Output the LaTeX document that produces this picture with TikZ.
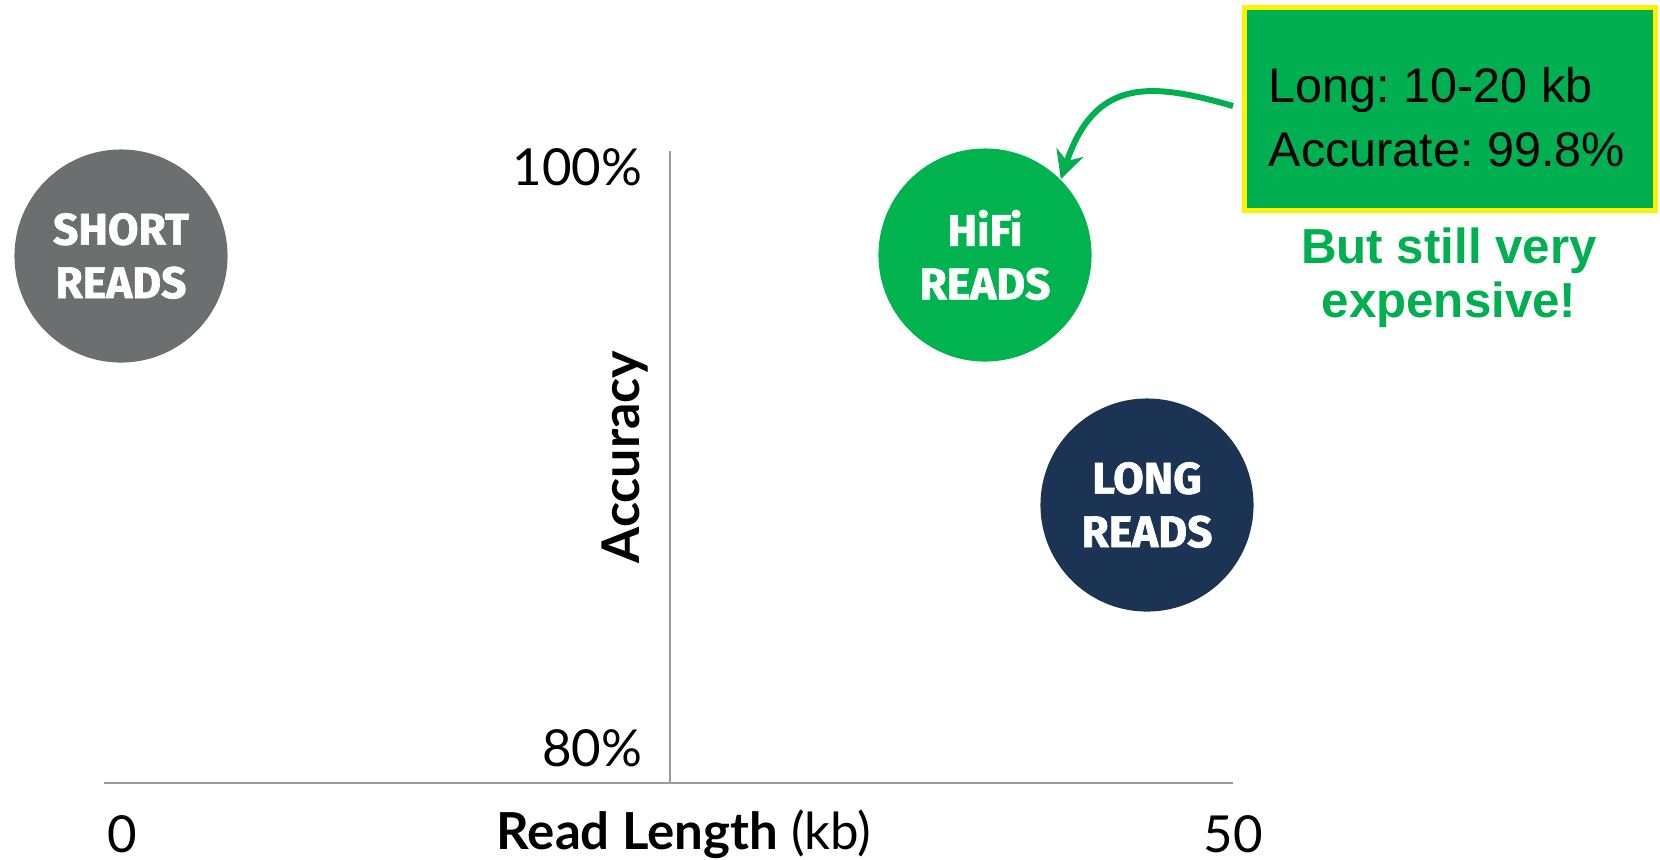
\documentclass[tikz,border=0pt]{standalone}
\usepackage{fontspec}
\setmainfont{Lato}
\newfontfamily\boxfont{Liberation Sans}
\newfontfamily\circfont[BoldFeatures={FakeBold=1.5}]{Fira Sans}
\usepackage{tikz}
\usetikzlibrary{arrows.meta, positioning}

\definecolor{readgray}{HTML}{6D6E70}
\definecolor{hifigreen}{HTML}{00B34F}
\definecolor{longnavy}{HTML}{1C3454}
\definecolor{calloutgreen}{HTML}{00B050}
\definecolor{axisgray}{HTML}{9A9A9A}

\begin{document}
\frenchspacing
\begin{tikzpicture}[x=0.01cm, y=-0.01cm,
    readcircle/.style={circle, minimum size=2.13cm, inner sep=0pt, text=white,
        font=\circfont\bfseries\fontsize{12.6}{15.2}\selectfont, align=center},
    axislabel/.style={font=\fontsize{14.5}{17}\selectfont, inner sep=0pt},
    axisline/.style={draw=axisgray, line width=0.5pt}]
  \useasboundingbox (0,0) rectangle (1660,859);

  % Axes
  \coordinate (origin) at (670,783);
  \coordinate (xleft)  at (104,783);
  \coordinate (xright) at (1233,783);
  \coordinate (ytop)   at (670,151);
  \draw[axisline] (xleft) -- (xright);
  \draw[axisline] (origin) -- (ytop);

  % Axis labels
  \node[axislabel, anchor=east] (yhigh) at (643,167) {100\%};
  \node[axislabel, anchor=east] (ylow)  at (643,748) {80\%};
  \node[axislabel] (xzero) at (122,834) {0};
  \node[axislabel] (xfifty) at (1233,834) {50};
  \node[axislabel] (xtitle) at (684,834) {\textbf{Read Length} (kb)};
  \node[axislabel, font=\bfseries\fontsize{14.8}{17}\selectfont, rotate=90] (ytitle) at (625,457) {Accuracy};

  % Read types
  \node[readcircle, fill=readgray]  (short) at (121,256)  {SHORT\\READS};
  \node[readcircle, fill=hifigreen] (hifi)  at (985,255)  {HiFi\\READS};
  \node[readcircle, fill=longnavy]  (long)  at (1147,505) {LONG\\READS};

  % Callout
  \node[draw=yellow, line width=1.4pt, fill=calloutgreen, minimum width=4.11cm,
        minimum height=2.02cm] (callout) at (1450,109) {};
  \node[anchor=west, inner sep=0pt, align=left,
        font=\boxfont\fontsize{13.8}{18}\selectfont] (calltext) at (1268,117)
        {Long: 10-20 kb\\Accurate: 99.8\%};
  \node[text=calloutgreen, align=center,
        font=\boxfont\bfseries\fontsize{14}{15.4}\selectfont] (note) at (1449,278)
        {But still very\\expensive!};

  \coordinate (arrowstart) at (1233,106);
  \draw[calloutgreen, line width=1.7pt, -{Stealth[length=8pt, width=8pt]}]
    (arrowstart) .. controls (1150,82) and (1095,78) .. (hifi.north east);
\end{tikzpicture}
\end{document}
